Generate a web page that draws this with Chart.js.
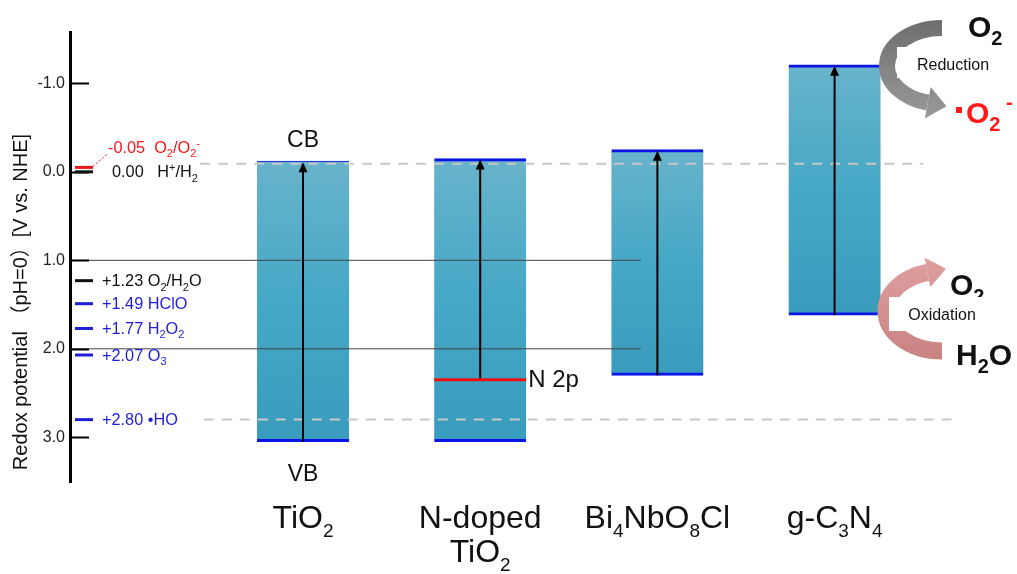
<!DOCTYPE html>
<html>
<head>
<meta charset="utf-8">
<script src="https://cdn.jsdelivr.net/npm/chart.js@4.4.0/dist/chart.umd.min.js"></script>
<style>
  html, body { margin: 0; padding: 0; background: #fff; }
  #wrap { width: 1017px; height: 574px; }
</style>
</head>
<body>
<div id="wrap"><canvas id="bandChart"></canvas></div>
<script>
// band edge positions, V vs. NHE (pH=0)
const materials = ['TiO_{2}', 'N-doped|TiO_{2}', 'Bi_{4}NbO_{8}Cl', 'g-C_{3}N_{4}'];
const cbEdges = [-0.12, -0.15, -0.25, -1.21];
const vbEdges = [3.05, 3.05, 2.30, 1.62];
const n2pLevel = 2.35;

// redox potentials listed along the axis
const redoxValues = [-0.05, 0.00, 1.23, 1.49, 1.77, 2.07, 2.80];
const redoxLabels = ['-0.05  O_{2}/O_{2}^{-}', '0.00   H^{+}/H_{2}', '+1.23 O_{2}/H_{2}O', '+1.49 HClO',
                     '+1.77 H_{2}O_{2}', '+2.07 O_{3}', '+2.80 \u2022HO'];

const yTickValues = [-1, 0, 1, 2, 3];
const yTickLabels = ['-1.0', '0.0', '1.0', '2.0', '3.0'];
const guideLevels = [1.0, 2.0];
const dashLevels = [-0.09, 2.80];

// ---- styles / geometry ----
const FONT = "'Liberation Sans', Arial, 'Noto Sans CJK SC', sans-serif";
const Y_MIN = -1.58, Y_MAX = 3.505;
const X_MIN = -1.315, X_MAX = 3.99;
const redoxColors = ['#f01818', '#111', '#111', '#1f1fd8', '#1f1fd8', '#1f1fd8', '#1f1fd8'];
const guideEndX = 1.907;
const dashSpan = [[-0.58, 3.50], [-0.56, 3.66]];

function parseRich(str) {
    const out = [];
    const re = /([_^])\{([^}]*)\}|([^_^]+)/g;
    let m;
    while ((m = re.exec(str))) {
        if (m[1]) out.push({ t: m[2], mode: m[1] === '_' ? 'sub' : 'sup' });
        else out.push({ t: m[3], mode: 'n' });
    }
    return out;
}

function drawRich(ctx, str, x, y, size, opts) {
    opts = opts || {};
    const weight = opts.weight || 'normal';
    const ratio = opts.ratio || 0.62;
    const segs = parseRich(str);
    const fontFor = s => `${weight} ${s.mode === 'n' ? size : Math.round(size * ratio)}px ${FONT}`;
    let total = 0;
    segs.forEach(s => { ctx.font = fontFor(s); s.w = ctx.measureText(s.t).width; total += s.w; });
    let cx = x;
    if (opts.align === 'center') cx = x - total / 2;
    else if (opts.align === 'right') cx = x - total;
    ctx.fillStyle = opts.color || '#000';
    ctx.textAlign = 'left';
    ctx.textBaseline = 'alphabetic';
    segs.forEach(s => {
        ctx.font = fontFor(s);
        let dy = 0;
        if (s.mode === 'sub') dy = size * 0.27;
        if (s.mode === 'sup') dy = -size * 0.38;
        ctx.fillText(s.t, cx, y + dy);
        cx += s.w;
    });
    return total;
}

function curvedArrow(ctx, cx, cy, rx, ry, a0, a1, ccw, width, fill, headLen, headHalf) {
    ctx.save();
    ctx.strokeStyle = fill;
    ctx.lineWidth = width;
    ctx.lineCap = 'butt';
    ctx.beginPath();
    ctx.ellipse(cx, cy, rx, ry, 0, a0, a1, ccw);
    ctx.stroke();
    const ex = cx + rx * Math.cos(a1), ey = cy + ry * Math.sin(a1);
    let tx = -rx * Math.sin(a1), ty = ry * Math.cos(a1);
    if (ccw) { tx = -tx; ty = -ty; }
    const len = Math.hypot(tx, ty);
    tx /= len; ty /= len;
    const nx = -ty, ny = tx;
    ctx.fillStyle = fill;
    ctx.beginPath();
    ctx.moveTo(ex + nx * headHalf, ey + ny * headHalf);
    ctx.lineTo(ex + tx * headLen, ey + ty * headLen);
    ctx.lineTo(ex - nx * headHalf, ey - ny * headHalf);
    ctx.closePath();
    ctx.fill();
    ctx.restore();
}

const bandDecor = {
    id: 'bandDecor',
    afterDatasetsDraw(chart) {
        const { ctx, chartArea } = chart;
        const xs = chart.scales.x, ys = chart.scales.y;
        const left = chartArea.left;
        ctx.save();

        // inner tick marks
        ctx.strokeStyle = '#000';
        ctx.lineWidth = 2;
        yTickValues.forEach(v => {
            const y = Math.round(ys.getPixelForValue(v)) + 0.5;
            ctx.beginPath();
            ctx.moveTo(left + 1, y);
            ctx.lineTo(left + 19, y);
            ctx.stroke();
        });

        // axis title
        ctx.save();
        ctx.translate(21, 302);
        ctx.rotate(-Math.PI / 2);
        ctx.font = `20px ${FONT}`;
        ctx.fillStyle = '#111';
        ctx.textAlign = 'center';
        ctx.textBaseline = 'middle';
        ctx.fillText('Redox potential \uFF08pH=0\uFF09[V vs. NHE]', 0, 0);
        ctx.restore();

        // redox marks and labels
        redoxValues.forEach((v, i) => {
            const y = ys.getPixelForValue(v);
            ctx.strokeStyle = redoxColors[i];
            ctx.lineWidth = 3;
            ctx.beginPath();
            ctx.moveTo(left + 5, y);
            ctx.lineTo(left + 23, y);
            ctx.stroke();
            let lx = left + 32, ly = y;
            if (i === 0) { lx = left + 38; ly = y - 20; }
            if (i === 1) { lx = left + 42; }
            drawRich(ctx, redoxLabels[i], lx, ly + 5.5, 16.3, { color: redoxColors[i], ratio: 0.65 });
        });
        // dotted leader for O2/O2-
        const y0 = ys.getPixelForValue(redoxValues[0]);
        ctx.strokeStyle = '#f01818';
        ctx.lineWidth = 1;
        ctx.setLineDash([2, 2]);
        ctx.beginPath();
        ctx.moveTo(left + 23, y0 - 1);
        ctx.lineTo(left + 38, y0 - 14);
        ctx.stroke();
        ctx.setLineDash([]);

        // excitation arrows VB -> CB
        cbEdges.forEach((cb, i) => {
            const x = xs.getPixelForValue(i);
            const yTop = ys.getPixelForValue(cb) + 1;
            const yBot = ys.getPixelForValue(i === 1 ? n2pLevel : vbEdges[i]);
            ctx.strokeStyle = '#000';
            ctx.lineWidth = 2;
            ctx.beginPath();
            ctx.moveTo(x, yBot);
            ctx.lineTo(x, yTop + 8);
            ctx.stroke();
            ctx.fillStyle = '#000';
            ctx.beginPath();
            ctx.moveTo(x, yTop);
            ctx.lineTo(x - 4.5, yTop + 10);
            ctx.lineTo(x + 4.5, yTop + 10);
            ctx.closePath();
            ctx.fill();
        });

        // N 2p level
        const xN = xs.getPixelForValue(1);
        const yN = ys.getPixelForValue(n2pLevel);
        ctx.strokeStyle = '#f01010';
        ctx.lineWidth = 3;
        ctx.beginPath();
        ctx.moveTo(xN - 46, yN);
        ctx.lineTo(xN + 46, yN);
        ctx.stroke();
        ctx.font = `24px ${FONT}`;
        ctx.fillStyle = '#111';
        ctx.textAlign = 'left';
        ctx.textBaseline = 'middle';
        ctx.fillText('N 2p', xN + 48, yN + 1);

        // CB / VB
        const x0 = xs.getPixelForValue(0);
        ctx.textAlign = 'center';
        ctx.textBaseline = 'alphabetic';
        ctx.font = `23px ${FONT}`;
        ctx.fillText('CB', x0, ys.getPixelForValue(cbEdges[0]) - 14);
        ctx.fillText('VB', x0, ys.getPixelForValue(vbEdges[0]) + 39);

        // category labels
        materials.forEach((m, i) => {
            const x = xs.getPixelForValue(i);
            m.split('|').forEach((line, k) => {
                drawRich(ctx, line, x, 528 + k * 34, 32, { align: 'center', color: '#111', ratio: 0.6 });
            });
        });

        // reduction arrow (grey)
        const gGrey = ctx.createLinearGradient(0, 20, 0, 120);
        gGrey.addColorStop(0, '#6e6e6e');
        gGrey.addColorStop(1, '#9a9a9a');
        curvedArrow(ctx, 942, 66, 55, 38, -Math.PI / 2, 105 * Math.PI / 180, true, 16, gGrey, 19, 16);
        // oxidation arrow (pink)
        const gPink = ctx.createLinearGradient(0, 255, 0, 360);
        gPink.addColorStop(0, '#e0a0a0');
        gPink.addColorStop(1, '#c98282');
        curvedArrow(ctx, 942, 311, 56, 40, Math.PI / 2, 255 * Math.PI / 180, false, 17, gPink, 19, 15);

        // species labels
        drawRich(ctx, 'O_{2}', 968, 37, 30, { weight: 'bold', color: '#111', ratio: 0.68 });
        ctx.fillStyle = '#ff1a1a';
        ctx.fillRect(956, 107, 6, 6);
        drawRich(ctx, 'O_{2}', 966, 123, 30, { weight: 'bold', color: '#ff1a1a', ratio: 0.68 });
        drawRich(ctx, '-', 1006, 109, 20, { weight: 'bold', color: '#ff1a1a' });
        drawRich(ctx, 'O_{2}', 950, 295, 30, { weight: 'bold', color: '#111', ratio: 0.68 });
        drawRich(ctx, 'H_{2}O', 956, 365, 30, { weight: 'bold', color: '#111', ratio: 0.68 });

        ctx.fillStyle = '#fff';
        ctx.fillRect(897, 47, 103, 31);
        ctx.fillRect(889, 297, 100, 34);
        ctx.fillStyle = '#111';
        ctx.font = `16px ${FONT}`;
        ctx.textAlign = 'center';
        ctx.textBaseline = 'middle';
        ctx.fillText('Reduction', 953, 66);
        ctx.fillText('Oxidation', 942, 316);

        ctx.restore();
    }
};

function bandFill(c) {
    const chart = c.chart;
    if (!chart.chartArea) return '#4aa8c6';
    const ys = chart.scales.y;
    const top = ys.getPixelForValue(cbEdges[c.dataIndex]);
    const bot = ys.getPixelForValue(vbEdges[c.dataIndex]);
    const g = chart.ctx.createLinearGradient(0, top, 0, bot);
    g.addColorStop(0, '#68b3cb');
    g.addColorStop(0.5, '#45a8c6');
    g.addColorStop(1, '#3a9cbd');
    return g;
}

const datasets = [];
guideLevels.forEach(v => {
    datasets.push({
        type: 'line', order: 1,
        data: [{ x: X_MIN, y: v }, { x: guideEndX, y: v }],
        borderColor: '#444', borderWidth: 1, pointRadius: 0
    });
});
dashLevels.forEach((v, i) => {
    datasets.push({
        type: 'line', order: 1,
        data: [{ x: dashSpan[i][0], y: v }, { x: dashSpan[i][1], y: v }],
        borderColor: '#c8c8c8', borderWidth: 2, borderDash: [10, 8], pointRadius: 0
    });
});
datasets.push({
    type: 'bar', order: 2,
    data: materials.map((m, i) => ({ x: i, y: [cbEdges[i], vbEdges[i]] })),
    backgroundColor: bandFill,
    borderColor: '#0a14e6',
    borderWidth: c => ({ top: c.dataIndex === 0 ? 1 : 3, bottom: 3, left: 0, right: 0 }),
    borderSkipped: false,
    barThickness: 92
});

new Chart(document.getElementById('bandChart'), {
    type: 'bar',
    data: { datasets },
    options: {
        responsive: true,
        maintainAspectRatio: false,
        animation: false,
        layout: { padding: { top: 32, bottom: 92, left: 0, right: 7 } },
        plugins: { legend: { display: false }, tooltip: { enabled: false } },
        scales: {
            x: { type: 'linear', min: X_MIN, max: X_MAX, offset: false, display: false },
            y: {
                type: 'linear', reverse: true, min: Y_MIN, max: Y_MAX,
                afterBuildTicks: s => { s.ticks = yTickValues.map(v => ({ value: v })); },
                afterFit: s => { s.width = 70; },
                grid: { drawOnChartArea: false, drawTicks: false },
                border: { display: true, color: '#000', width: 3 },
                ticks: {
                    callback: v => yTickLabels[yTickValues.indexOf(v)],
                    font: { size: 16, family: FONT },
                    color: '#222',
                    padding: 5
                }
            }
        }
    },
    plugins: [bandDecor]
});
</script>
</body>
</html>
